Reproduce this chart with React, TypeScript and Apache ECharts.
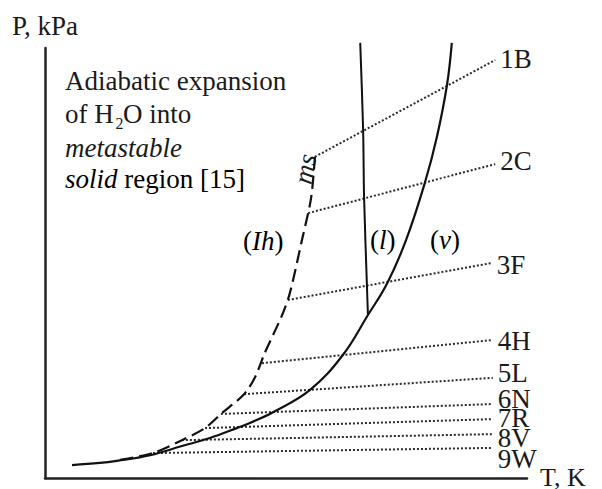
import React, { useEffect, useRef } from "react";
import * as echarts from "echarts";

// Schematic P–T diagram of H2O, relative units (0–100 on both axes).
const vaporCurve: number[][] = [
  [5.6, 3.0], [11.4, 3.5], [14.9, 4.0], [21.8, 5.3], [28.6, 7.5], [34.2, 9.3],
  [39.8, 11.6], [42.5, 12.8], [47.3, 15.3], [55.0, 20.5], [61.8, 28.6],
  [67.0, 37.9], [71.0, 45.3], [74.9, 55.3], [78.8, 68.6], [81.3, 79.3],
  [83.4, 91.4], [84.4, 101.2],
];

const meltingCurve: number[][] = [
  [67.0, 37.9], [66.8, 44.4], [66.2, 65.3], [66.0, 80.9], [65.4, 101.2],
];

const metastableCurve: number[][] = [
  [56.0, 74.7], [55.2, 65.1], [53.3, 55.3], [50.8, 43.0], [49.2, 37.9],
  [45.6, 29.1], [43.6, 23.5], [41.3, 19.5], [36.5, 14.9], [33.2, 11.6],
  [28.4, 8.8], [22.4, 5.8], [15.6, 4.2],
];

// Expansion paths: from the metastable line out to the labelled state.
const pathLabels = ["1B", "2C", "3F", "4H", "5L", "6N", "7R", "8V", "9W"];
const pathStartT = [56.0, 54.6, 50.4, 45.0, 41.3, 36.5, 33.2, 28.4, 22.4];
const pathStartP = [74.7, 61.6, 41.4, 26.7, 19.5, 14.9, 11.6, 8.8, 5.8];
const pathEndT = [93.4, 93.4, 92.7, 92.9, 92.9, 92.9, 92.9, 92.9, 92.9];
const pathEndP = [97.2, 73.0, 50.0, 32.1, 23.3, 17.2, 13.7, 10.2, 7.0];

// vertical nudge of each path label relative to its line end (px)
const labelNudge = [-1, -3, 2, 1, -5, -5, -1, 4, 11];

const SERIF = "Liberation Serif, Times New Roman, serif";
const INK = "#1a1a1a";
const FS = 27;

export default function App() {
  const ref = useRef<HTMLDivElement>(null);

  useEffect(() => {
    if (!ref.current) return;
    const chart = echarts.init(ref.current, undefined, { renderer: "svg" });

    const axisCommon = {
      type: "value" as const,
      min: 0,
      max: 100,
      axisLine: { show: true, lineStyle: { color: "#222", width: 2.5 } },
      axisTick: { show: false },
      axisLabel: { show: false },
      splitLine: { show: false },
    };

    const pathSeries = pathLabels.map((name, i) => ({
      type: "line" as const,
      name,
      data: [
        [pathStartT[i], pathStartP[i]],
        [pathEndT[i], pathEndP[i]],
      ],
      symbol: "none",
      clip: false,
      lineStyle: { color: "#2a2a2a", width: 2, type: [2, 2] as number[] },
      endLabel: {
        show: true,
        formatter: name,
        distance: 5,
        offset: [0, labelNudge[i]],
        fontFamily: SERIF,
        fontSize: FS,
        lineHeight: 18,
        color: INK,
      },
      z: 1,
    }));

    const text = (x: number, y: number, t: string, extra: any = {}) => ({
      type: "text",
      x,
      y,
      style: {
        text: t,
        fontFamily: SERIF,
        fontSize: FS,
        fill: INK,
        verticalAlign: "middle",
        ...extra,
      },
    });

    const rich = {
      n: { fontFamily: SERIF, fontSize: FS, color: INK },
      i: { fontFamily: SERIF, fontSize: FS, color: INK, fontStyle: "italic" },
    };

    chart.setOption({
      animation: false,
      backgroundColor: "#ffffff",
      grid: { left: 45, right: 75, top: 48, bottom: 11, outerBoundsMode: "none" },
      xAxis: { ...axisCommon },
      yAxis: {
        ...axisCommon,
        name: "P, kPa",
        nameLocation: "end",
        nameGap: 22,
        nameTextStyle: { fontFamily: SERIF, fontSize: FS, color: INK, verticalAlign: "middle" },
      },
      series: [
        {
          type: "line",
          name: "v",
          data: vaporCurve,
          symbol: "none",
          smooth: 0.4,
          clip: false,
          lineStyle: { color: "#111", width: 2.2 },
          z: 3,
        },
        {
          type: "line",
          name: "l",
          data: meltingCurve,
          symbol: "none",
          smooth: 0.3,
          clip: false,
          lineStyle: { color: "#111", width: 2 },
          z: 3,
        },
        {
          type: "line",
          name: "ms",
          data: metastableCurve,
          symbol: "none",
          smooth: 0.3,
          clip: false,
          lineStyle: { color: "#111", width: 2.2, type: [13, 6] },
          z: 3,
        },
        ...pathSeries,
      ],
      graphic: [
        // temperature axis title
        text(540, 477, "T, K", { fontSize: 26 }),
        // annotation block
        text(65, 81, "Adiabatic expansion"),
        text(65, 114, "of H"),
        text(115.5, 123, "2", { fontSize: 16, lineHeight: 14 }),
        text(123, 114, "O into"),
        text(65, 148, "metastable", { fontStyle: "italic" }),
        {
          type: "text",
          x: 65,
          y: 179,
          style: { text: "{i|solid}{n| region [15]}", rich, verticalAlign: "middle" },
        },
        // phase-region labels
        {
          type: "text",
          x: 243,
          y: 241,
          style: { text: "{n|(}{i|Ih}{n|)}", rich, verticalAlign: "middle" },
        },
        {
          type: "text",
          x: 370,
          y: 240,
          style: { text: "{n|(}{i|l}{n|)}", rich, verticalAlign: "middle" },
        },
        {
          type: "text",
          x: 430,
          y: 240,
          style: { text: "{n|(}{i|v}{n|)}", rich, verticalAlign: "middle" },
        },
        {
          type: "text",
          x: 305,
          y: 169,
          rotation: (80 * Math.PI) / 180,
          style: {
            text: "ms",
            fontFamily: SERIF,
            fontSize: FS,
            fontStyle: "italic",
            fill: INK,
            align: "center",
            verticalAlign: "middle",
          },
        },
      ],
    });

    return () => chart.dispose();
  }, []);

  return (
    <div
      ref={ref}
      style={{ position: "fixed", left: 0, top: 0, width: 602, height: 489, background: "#fff" }}
    />
  );
}
